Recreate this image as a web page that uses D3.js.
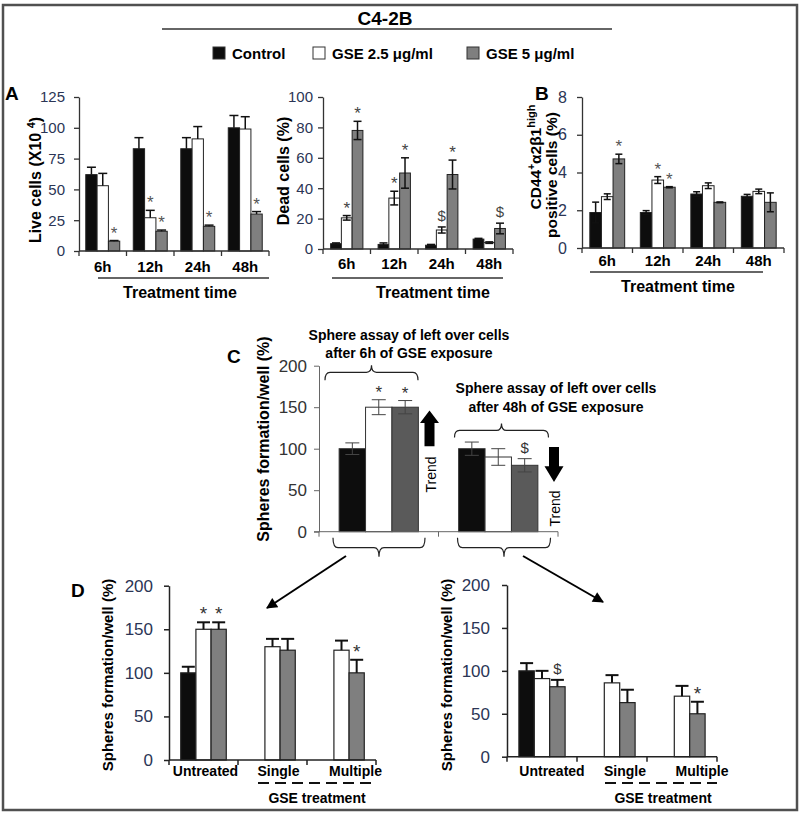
<!DOCTYPE html>
<html><head><meta charset="utf-8">
<script src="https://cdn.jsdelivr.net/npm/d3@7"></script>
<style>body{margin:0;background:#fff} svg{display:block} text{font-family:"Liberation Sans",Arial,sans-serif}</style>
</head><body><svg id="c" width="800" height="815"></svg>
<script>
// ---------- DATA ----------
const title = "C4-2B";
const seriesNames = ["Control", "GSE 2.5 μg/ml", "GSE 5 μg/ml"];
const timeCats = ["6h", "12h", "24h", "48h"];

// Panel A – live cells (X10^4)
const liveTicks = [0, 25, 50, 75, 100, 125];
const liveControl = [62, 83, 83, 100];
const liveGse25 = [53, 27, 91, 99];
const liveGse5 = [8, 16, 20, 30];
const liveErrControl = [6, 9, 9, 10];
const liveErrGse25 = [10, 6, 10, 10];
const liveErrGse5 = [0.5, 1, 1, 2];
const liveMarks = [[2, 0, "*"], [1, 1, "*"], [2, 1, "*"], [2, 2, "*"], [2, 3, "*"]];

// Panel A – dead cells (%)
const deadTicks = [0, 20, 40, 60, 80, 100];
const deadControl = [3.5, 3, 2.5, 6.5];
const deadGse25 = [20.5, 33.5, 12.5, 4.2];
const deadGse5 = [78, 50, 49, 13.5];
const deadErrControl = [0.5, 1, 0.5, 0.5];
const deadErrGse25 = [1.5, 4.5, 2, 0.5];
const deadErrGse5 = [6, 10, 9.5, 3.5];
const deadMarks = [[1, 0, "*"], [2, 0, "*"], [1, 1, "*"], [2, 1, "*"], [1, 2, "$"], [2, 2, "*"], [2, 3, "$"]];

// Panel B – CD44+ a2b1 high positive cells (%)
const bTicks = [0, 2, 4, 6, 8];
const bControl = [1.88, 1.88, 2.86, 2.74];
const bGse25 = [2.72, 3.6, 3.3, 3.0];
const bGse5 = [4.72, 3.22, 2.42, 2.42];
const bErrControl = [0.55, 0.1, 0.12, 0.1];
const bErrGse25 = [0.15, 0.18, 0.15, 0.12];
const bErrGse5 = [0.25, 0.03, 0.02, 0.5];
const bMarks = [[2, 0, "*"], [1, 1, "*"], [2, 1, "*"]];

// Panel C – sphere formation (%)
const cCats = ["6h", "48h"];
const cTicks = [0, 50, 100, 150, 200];
const cControl = [100, 100];
const cGse25 = [150, 90];
const cGse5 = [150, 80];
const cErrControl = [7, 8];
const cErrGse25 = [9, 10];
const cErrGse5 = [8, 8];
const cMarks = [[1, 0, "*"], [2, 0, "*"], [2, 1, "$"]];
const cNoteLeft = ["Sphere assay of left over cells", "after 6h of GSE exposure"];
const cNoteRight = ["Sphere assay of left over cells", "after 48h of GSE exposure"];

// Panel D – sphere formation after re-treatment (%)
const dCats = ["Untreated", "Single", "Multiple"];
const dTicks = [0, 50, 100, 150, 200];
const d1Control = [100, null, null];
const d1Gse25 = [150, 130, 126];
const d1Gse5 = [150, 126, 100];
const d1ErrControl = [7, 0, 0];
const d1ErrGse25 = [8, 9, 11];
const d1ErrGse5 = [8, 13, 15];
const d1Marks = [[1, 0, "*"], [2, 0, "*"], [2, 2, "*"]];
const d2Control = [100, null, null];
const d2Gse25 = [91, 86, 70.5];
const d2Gse5 = [81.5, 63, 50];
const d2ErrControl = [9, 0, 0];
const d2ErrGse25 = [9, 9, 12];
const d2ErrGse5 = [8, 15, 14];
const d2Marks = [[2, 0, "$"], [2, 2, "*"]];

// ---------- DRAWING ----------
const svg = d3.select("#c");
const FONT = '"Liberation Sans", Arial, sans-serif';
const NAVY = "#2b3555";

svg.append("rect").attr("x", 3).attr("y", 5).attr("width", 794).attr("height", 805)
  .attr("fill", "none").attr("stroke", "#505050").attr("stroke-width", 2.5);

svg.append("text").attr("x", 385).attr("y", 25).attr("text-anchor", "middle")
  .attr("font-size", 19).attr("font-weight", "bold").text(title);
svg.append("line").attr("x1", 162).attr("x2", 612).attr("y1", 29).attr("y2", 29)
  .attr("stroke", "#333").attr("stroke-width", 1.5);

// legend
const legendX = [213, 313, 467];
const legendFill = ["#0d0d0d", "#ffffff", "#7f7f7f"];
seriesNames.forEach((n, i) => {
  svg.append("rect").attr("x", legendX[i]).attr("y", 47).attr("width", 12).attr("height", 12)
    .attr("fill", legendFill[i]).attr("stroke", "#333").attr("stroke-width", 1);
  svg.append("text").attr("x", legendX[i] + 19).attr("y", 58.5).attr("font-size", 15)
    .attr("font-weight", "bold").text(n);
});

function rotLabel(cx, cy, fs, txt, weight) {
  return svg.append("text").attr("transform", `translate(${cx + 0.35 * fs},${cy}) rotate(-90)`)
    .attr("text-anchor", "middle").attr("font-size", fs).attr("font-weight", weight || "bold").text(txt);
}
function panelLetter(x, y, t) {
  svg.append("text").attr("x", x).attr("y", y).attr("font-size", 19).attr("font-weight", "bold").text(t);
}

function drawPanel(cfg) {
  const g = svg.append("g");
  const x = d3.scaleBand().domain(cfg.cats).range([cfg.left, cfg.right]);
  const bw = x.bandwidth();
  const inner = d3.scaleBand().domain([0, 1, 2]).range([bw * (1 - cfg.frac) / 2, bw * (1 + cfg.frac) / 2]);
  const y = d3.scaleLinear().domain([0, cfg.max]).range([cfg.bottom, cfg.top]);
  const fills = ["#0d0d0d", "#ffffff", cfg.gray];
  const data = [];
  cfg.vals.forEach((arr, s) => arr.forEach((v, i) => { if (v != null) data.push({ s, i, v, e: cfg.errs[s][i] }); }));
  const cx = d => x(cfg.cats[d.i]) + inner(d.s) + inner.bandwidth() / 2;

  g.selectAll("rect.bar").data(data).join("rect").attr("class", "bar")
    .attr("x", d => x(cfg.cats[d.i]) + inner(d.s)).attr("y", d => y(d.v))
    .attr("width", inner.bandwidth()).attr("height", d => y(0) - y(d.v))
    .attr("fill", d => fills[d.s]).attr("stroke", cfg.barStroke).attr("stroke-width", cfg.barSW);

  const eg = g.append("g").attr("stroke", cfg.errColor).attr("stroke-width", cfg.errW);
  data.forEach(d => {
    if (!d.e) return;
    const c = cx(d), top = y(d.v + d.e), bot = cfg.both ? y(d.v - d.e) : y(d.v);
    eg.append("line").attr("x1", c).attr("x2", c).attr("y1", top).attr("y2", bot);
    eg.append("line").attr("x1", c - cfg.capW / 2).attr("x2", c + cfg.capW / 2).attr("y1", top).attr("y2", top);
    if (cfg.both) eg.append("line").attr("x1", c - cfg.capW / 2).attr("x2", c + cfg.capW / 2).attr("y1", bot).attr("y2", bot);
  });

  const ya = d3.axisLeft(y).tickValues(cfg.ticks).tickSize(5).tickSizeOuter(0).tickPadding(cfg.tickPad);
  const yg = g.append("g").attr("transform", `translate(${cfg.left},0)`).call(ya);
  yg.select(".domain").attr("stroke", cfg.axisColor).attr("stroke-width", cfg.axisW);
  yg.selectAll(".tick line").attr("stroke", cfg.axisColor).attr("stroke-width", cfg.axisW);
  yg.selectAll(".tick text").attr("fill", cfg.tickColor).attr("font-size", cfg.tickFont)
    .attr("font-family", FONT).attr("font-weight", cfg.tickWeight || "normal");

  g.append("line").attr("x1", cfg.left - (cfg.xExt || 0)).attr("x2", cfg.right).attr("y1", y(0)).attr("y2", y(0))
    .attr("stroke", cfg.axisColor).attr("stroke-width", cfg.axisW);
  const bounds = cfg.cats.map(c => x(c)).concat([cfg.right]);
  bounds.forEach(b => g.append("line").attr("x1", b).attr("x2", b).attr("y1", y(0)).attr("y2", y(0) + 5)
    .attr("stroke", cfg.axisColor).attr("stroke-width", cfg.axisW));

  if (cfg.showCats) {
    cfg.cats.forEach((c, i) => g.append("text").attr("x", x(c) + bw / 2 + (cfg.catOff ? cfg.catOff[i] : 0))
      .attr("y", y(0) + cfg.catDy).attr("text-anchor", "middle").attr("dominant-baseline", "central")
      .attr("font-size", cfg.catFont).attr("font-weight", "bold").text(c));
  }

  (cfg.marks || []).forEach(([s, i, t]) => {
    const d = data.find(q => q.s === s && q.i === i);
    const capY = y(d.v + d.e);
    g.append("text").attr("x", cx(d)).attr("y", capY - (t === "$" ? 6 : 2)).attr("text-anchor", "middle")
      .attr("font-size", t === "$" ? 15 : cfg.markFont).attr("fill", cfg.markColor).text(t);
  });
  return { x, inner, y, g, bw };
}

// ----- Panel A: live cells -----
panelLetter(5, 100, "A");
const pLive = drawPanel({
  cats: timeCats, vals: [liveControl, liveGse25, liveGse5], errs: [liveErrControl, liveErrGse25, liveErrGse5],
  left: 79, right: 269, bottom: 251, top: 97, max: 125, ticks: liveTicks, frac: 0.715,
  gray: "#7f7f7f", barStroke: "#222", barSW: 1, errColor: "#111", errW: 1.5, capW: 9, both: false,
  axisColor: "#333", axisW: 1.3, tickPad: 9, tickColor: NAVY, tickFont: 15,
  showCats: true, catDy: 15, catFont: 15, marks: liveMarks, markFont: 17, markColor: "#555"
});
svg.append("text").attr("transform", `translate(${35 + 5.6},180) rotate(-90)`).attr("text-anchor", "middle")
  .attr("font-size", 16).attr("font-weight", "bold")
  .call(t => { t.append("tspan").text("Live cells (X10 "); t.append("tspan").attr("dy", -6).attr("font-size", 11).text("4"); t.append("tspan").attr("dy", 6).text(")"); });

// ----- Panel A: dead cells -----
const pDead = drawPanel({
  cats: timeCats, vals: [deadControl, deadGse25, deadGse5], errs: [deadErrControl, deadErrGse25, deadErrGse5],
  left: 323, right: 513, bottom: 249, top: 97, max: 100, ticks: deadTicks, frac: 0.68,
  gray: "#7f7f7f", barStroke: "#222", barSW: 1, errColor: "#111", errW: 1.5, capW: 8, both: true,
  axisColor: "#333", axisW: 1.3, tickPad: 5, tickColor: NAVY, tickFont: 15,
  showCats: true, catDy: 14, catFont: 15, marks: deadMarks, markFont: 17, markColor: "#444"
});
rotLabel(283, 171, 16, "Dead cells (%)");

// treatment-time underlines for A
[[98, 269, 278, 180, 292], [332, 503, 278, 433, 292]].forEach(([a, b, ly, tx, ty]) => {
  svg.append("line").attr("x1", a).attr("x2", b).attr("y1", ly).attr("y2", ly).attr("stroke", "#333").attr("stroke-width", 1.3);
  svg.append("text").attr("x", tx).attr("y", ty).attr("text-anchor", "middle").attr("dominant-baseline", "central")
    .attr("font-size", 16).attr("font-weight", "bold").text("Treatment time");
});

// ----- Panel B -----
panelLetter(535, 100, "B");
const pB = drawPanel({
  cats: timeCats, vals: [bControl, bGse25, bGse5], errs: [bErrControl, bErrGse25, bErrGse5],
  left: 582, right: 784, bottom: 248, top: 97, max: 8, ticks: bTicks, frac: 0.69,
  gray: "#7f7f7f", barStroke: "#222", barSW: 1, errColor: "#111", errW: 1.5, capW: 7, both: true,
  axisColor: "#333", axisW: 1.3, tickPad: 10, tickColor: NAVY, tickFont: 16,
  showCats: true, catDy: 12, catFont: 15, marks: bMarks, markFont: 17, markColor: "#555"
});
svg.append("text").attr("transform", `translate(${535 + 5.5},157) rotate(-90)`).attr("text-anchor", "middle")
  .attr("font-size", 15.5).attr("font-weight", "bold")
  .call(t => {
    t.append("tspan").text("CD44");
    t.append("tspan").attr("dy", -6).attr("font-size", 10).text("+");
    t.append("tspan").attr("dy", 6).text("α2β1");
    t.append("tspan").attr("dy", -6).attr("font-size", 11).text("high");
  });
rotLabel(552, 175, 15.5, "positive cells (%)");
svg.append("line").attr("x1", 590).attr("x2", 763).attr("y1", 272).attr("y2", 272).attr("stroke", "#333").attr("stroke-width", 1.3);
svg.append("text").attr("x", 678).attr("y", 286).attr("text-anchor", "middle").attr("dominant-baseline", "central")
  .attr("font-size", 16).attr("font-weight", "bold").text("Treatment time");

// ----- Panel C -----
panelLetter(227, 363, "C");
const pC = drawPanel({
  cats: cCats, vals: [cControl, cGse25, cGse5], errs: [cErrControl, cErrGse25, cErrGse5],
  left: 319, right: 558, bottom: 531.7, top: 365.7, max: 200, ticks: cTicks, frac: 0.663,
  gray: "#5a5a5a", barStroke: "#333", barSW: 1, errColor: "#444", errW: 1, capW: 14, both: true,
  axisColor: "#666", axisW: 1, tickPad: 7, tickColor: "#333", tickFont: 17, xExt: 5,
  showCats: false, marks: cMarks, markFont: 17, markColor: "#333"
});
rotLabel(263, 439, 16, "Spheres formation/well (%)");

function brace(x1, x2, ym, endDy, tipDy) {
  const xc = (x1 + x2) / 2, r = 5;
  const ye = ym + endDy, yt = ym + tipDy;
  return `M${x1},${ye} Q${x1},${ym} ${x1 + r},${ym} L${xc - r},${ym} Q${xc},${ym} ${xc},${yt} Q${xc},${ym} ${xc + r},${ym} L${x2 - r},${ym} Q${x2},${ym} ${x2},${ye}`;
}
const cy = pC.y, cxs = pC.x;
// upper braces
svg.append("path").attr("d", brace(cxs("6h") + 6, cxs("6h") + 99, cy(192), 8, -7)).attr("fill", "none").attr("stroke", "#222").attr("stroke-width", 1.2);
svg.append("path").attr("d", brace(cxs("48h") + 16, cxs("48h") + 110, cy(122), 7, -7)).attr("fill", "none").attr("stroke", "#222").attr("stroke-width", 1.2);
// lower braces
svg.append("path").attr("d", brace(cxs("6h") + 14, cxs("6h") + 106, cy(0) + 16, -10, 9)).attr("fill", "none").attr("stroke", "#222").attr("stroke-width", 1.2);
svg.append("path").attr("d", brace(cxs("48h") + 19, cxs("48h") + 112, cy(0) + 16, -10, 9)).attr("fill", "none").attr("stroke", "#222").attr("stroke-width", 1.2);
// notes
cNoteLeft.forEach((l, i) => svg.append("text").attr("x", 409).attr("y", 340 + i * 18).attr("text-anchor", "middle")
  .attr("font-size", 14).attr("font-weight", "bold").text(l));
cNoteRight.forEach((l, i) => svg.append("text").attr("x", 556).attr("y", 393 + i * 19).attr("text-anchor", "middle")
  .attr("font-size", 14).attr("font-weight", "bold").text(l));
// trend block arrows
function blockArrow(xc, yBase, yHead, yTip) {
  const sw = 5, hw = 9.5;
  return `M${xc - sw},${yBase} L${xc - sw},${yHead} L${xc - hw},${yHead} L${xc},${yTip} L${xc + hw},${yHead} L${xc + sw},${yHead} L${xc + sw},${yBase} Z`;
}
svg.append("path").attr("d", blockArrow(cxs("48h") - 9, cy(103), cy(131), cy(146))).attr("fill", "#000");
svg.append("path").attr("d", blockArrow(pC.x.range()[1] - 4, cy(102), cy(79), cy(60))).attr("fill", "#000");
rotLabel(431, cy(69), 14, "Trend", "normal");
rotLabel(555, cy(28), 14, "Trend", "normal");

// arrows from C to D
const defs = svg.append("defs");
defs.append("marker").attr("id", "ah").attr("viewBox", "0 0 10 10").attr("refX", 9).attr("refY", 5)
  .attr("markerWidth", 13).attr("markerHeight", 11).attr("markerUnits", "userSpaceOnUse").attr("orient", "auto")
  .append("path").attr("d", "M0,0 L10,5 L0,10 Z").attr("fill", "#000");
svg.append("line").attr("x1", 346).attr("y1", 556).attr("x2", 267).attr("y2", 608).attr("stroke", "#000").attr("stroke-width", 2).attr("marker-end", "url(#ah)");
svg.append("line").attr("x1", 523).attr("y1", 556).attr("x2", 603).attr("y2", 602).attr("stroke", "#000").attr("stroke-width", 2).attr("marker-end", "url(#ah)");

// ----- Panel D -----
panelLetter(71, 597, "D");
const dCommon = {
  cats: dCats, max: 200, ticks: dTicks, frac: 0.66, gray: "#7f7f7f", barStroke: "#222", barSW: 1.2,
  errColor: "#111", errW: 2, capW: 13, both: false, axisColor: "#222", axisW: 1.5, tickColor: NAVY, tickFont: 17,
  showCats: true, catFont: 14, markFont: 19, markColor: "#333"
};
const pD1 = drawPanel(Object.assign({}, dCommon, {
  vals: [d1Control, d1Gse25, d1Gse5], errs: [d1ErrControl, d1ErrGse25, d1ErrGse5],
  left: 169, right: 376, bottom: 760, top: 585.7, tickPad: 11, catDy: 11, catOff: [2, 6, 14], marks: d1Marks
}));
const pD2 = drawPanel(Object.assign({}, dCommon, {
  vals: [d2Control, d2Gse25, d2Gse5], errs: [d2ErrControl, d2ErrGse25, d2ErrGse5],
  left: 507, right: 717, bottom: 756.7, top: 585, tickPad: 12, catDy: 14, catOff: [10, 13, 20], marks: d2Marks
}));
rotLabel(108, 675, 15, "Spheres formation/well (%)");
rotLabel(447, 675, 15, "Spheres formation/well (%)");
[[258, 373, 317], [605, 717, 663]].forEach(([a, b, tx]) => {
  svg.append("line").attr("x1", a).attr("x2", b).attr("y1", 783).attr("y2", 783).attr("stroke", "#111")
    .attr("stroke-width", 2).attr("stroke-dasharray", "11,6");
  svg.append("text").attr("x", tx).attr("y", 798).attr("text-anchor", "middle").attr("dominant-baseline", "central")
    .attr("font-size", 14).attr("font-weight", "bold").text("GSE treatment");
});
</script></body></html>
